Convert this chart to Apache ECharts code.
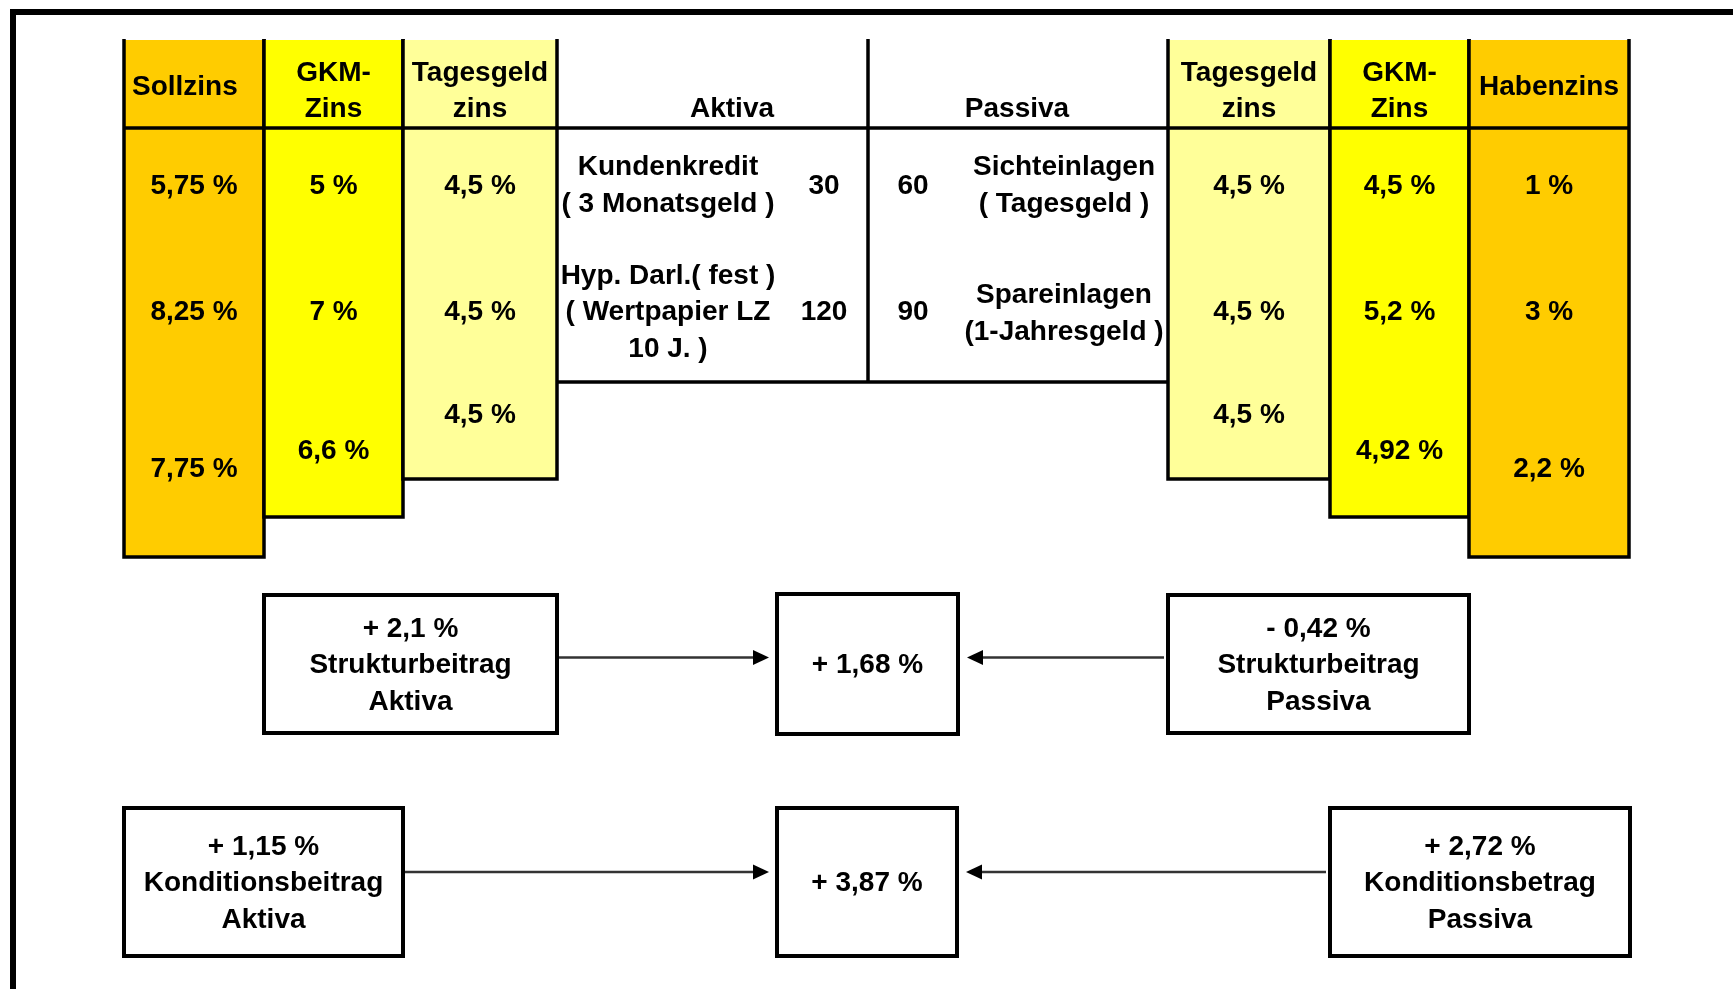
<!DOCTYPE html>
<html>
<head>
<meta charset="utf-8">
<script src="https://cdn.jsdelivr.net/npm/echarts@6/dist/echarts.min.js"></script>
<style>
html,body{margin:0;padding:0;background:#fff}
#main{width:1733px;height:989px}
</style>
</head>
<body>
<div id="main"></div>
<script>
// Zinsspalten: Kopf + 3 Zeilen (Kundenkredit/Sichteinl., Hyp./Spareinl., Durchschnitt)
const rateHeads = ['Sollzins', 'GKM-\nZins', 'Tagesgeld\nzins', 'Tagesgeld\nzins', 'GKM-\nZins', 'Habenzins'];
const sollzins = ['5,75 %', '8,25 %', '7,75 %'];
const gkmAktiva = ['5 %', '7 %', '6,6 %'];
const tagesAktiva = ['4,5 %', '4,5 %', '4,5 %'];
const tagesPassiva = ['4,5 %', '4,5 %', '4,5 %'];
const gkmPassiva = ['4,5 %', '5,2 %', '4,92 %'];
const habenzins = ['1 %', '3 %', '2,2 %'];
const rateRows = [sollzins, gkmAktiva, tagesAktiva, tagesPassiva, gkmPassiva, habenzins];

// Bilanz
const bilanzHeads = ['Aktiva', 'Passiva'];
const aktivaPos = ['Kundenkredit\n( 3 Monatsgeld )', 'Hyp. Darl.( fest )\n( Wertpapier LZ\n10 J. )'];
const aktivaVol = [30, 120];
const passivaVol = [60, 90];
const passivaPos = ['Sichteinlagen\n( Tagesgeld )', 'Spareinlagen\n(1-Jahresgeld )'];

// Ergebnisboxen
const strukturBoxes = ['+ 2,1 %\nStrukturbeitrag\nAktiva', '+ 1,68 %', '- 0,42 %\nStrukturbeitrag\nPassiva'];
const konditionBoxes = ['+ 1,15 %\nKonditionsbeitrag\nAktiva', '+ 3,87 %', '+ 2,72 %\nKonditionsbetrag\nPassiva'];

// ---- layout (Pixelraster der Zeichenfläche) ----
const TOP = 40, HEAD = 128, BIL_BOTTOM = 382;
const DY = 1.5; // Textversatz
const colX = [[124, 264], [264, 403], [403, 557], [1168, 1330], [1330, 1469], [1469, 1629]];
const colBottom = [557, 517, 479, 479, 517, 557];
const colFill = ['#FFCC00', '#FFFF00', '#FFFF99', '#FFFF99', '#FFFF00', '#FFCC00'];
const rowY = [185, 311];
const row3Y = [468, 450, 414, 414, 450, 468];
const boxRects = [
  [264, 557, 595, 733], [777, 958, 594, 734], [1168, 1469, 595, 733],
  [124, 403, 808, 956], [777, 957, 808, 956], [1330, 1630, 808, 956]
];
const arrows = [[0, 1], [2, 1], [3, 4], [5, 4]]; // von Box -> zu Box
const arrowY = [657.5, 657.5, 872, 872];

const FONT = { fontFamily: 'Liberation Sans, Arial, sans-serif', fontWeight: 'bold', fontSize: 28, fill: '#000', lineHeight: 36.5 };
const LW = 3.5;

function txt(api, text, x, y, align) {
  const p = api.coord([x, y + DY]);
  return { type: 'text', style: Object.assign({ text: String(text), x: p[0], y: p[1], align: align || 'center', verticalAlign: 'middle' }, FONT) };
}

function renderColumn(params, api) {
  const i = api.value(0);
  const a = api.coord([colX[i][0], TOP]);
  const b = api.coord([colX[i][1], colBottom[i]]);
  const cx = (colX[i][0] + colX[i][1]) / 2;
  const children = [
    { type: 'rect', shape: { x: a[0], y: a[1], width: b[0] - a[0], height: b[1] - a[1] }, style: { fill: colFill[i] } },
    { type: 'polyline', shape: { points: [[a[0], a[1] - 1], [a[0], b[1]], [b[0], b[1]], [b[0], a[1] - 1]] }, style: { stroke: '#000', lineWidth: LW, fill: null } }
  ];
  const head = rateHeads[i];
  const twoLine = head.indexOf('\n') >= 0;
  if (i === 0) children.push(txt(api, head, colX[i][0] + 8, 86, 'left'));
  else children.push(txt(api, head, cx, twoLine ? 90 : 86));
  const vals = rateRows[i];
  children.push(txt(api, vals[0], cx, rowY[0]));
  children.push(txt(api, vals[1], cx, rowY[1]));
  children.push(txt(api, vals[2], cx, row3Y[i]));
  return { type: 'group', children: children };
}

function renderBilanz(params, api) {
  const line = (x1, y1, x2, y2) => {
    const p = api.coord([x1, y1]), q = api.coord([x2, y2]);
    return { type: 'line', shape: { x1: p[0], y1: p[1], x2: q[0], y2: q[1] }, style: { stroke: '#000', lineWidth: LW } };
  };
  const children = [
    line(124, HEAD, 1629, HEAD),
    line(868, TOP - 1, 868, BIL_BOTTOM),
    line(557, BIL_BOTTOM, 1168, BIL_BOTTOM),
    txt(api, bilanzHeads[0], 732, 108),
    txt(api, bilanzHeads[1], 1017, 108)
  ];
  const lblY = [184.5, 311];
  const pasY = [184.5, 312.5];
  for (let r = 0; r < 2; r++) {
    children.push(txt(api, aktivaPos[r], 668, lblY[r]));
    children.push(txt(api, aktivaVol[r], 824, rowY[r]));
    children.push(txt(api, passivaVol[r], 913, rowY[r]));
    children.push(txt(api, passivaPos[r], 1064, pasY[r]));
  }
  return { type: 'group', children: children };
}

const allBoxes = strukturBoxes.concat(konditionBoxes);

function renderBox(params, api) {
  const i = api.value(0);
  const r = boxRects[i];
  const a = api.coord([r[0], r[2]]), b = api.coord([r[1], r[3]]);
  return {
    type: 'group',
    children: [
      { type: 'rect', shape: { x: a[0], y: a[1], width: b[0] - a[0], height: b[1] - a[1] }, style: { fill: '#fff', stroke: '#000', lineWidth: 4 } },
      txt(api, allBoxes[i], (r[0] + r[1]) / 2, (r[2] + r[3]) / 2)
    ]
  };
}

function renderArrow(params, api) {
  const k = api.value(0);
  const from = boxRects[arrows[k][0]], to = boxRects[arrows[k][1]];
  const y = arrowY[k];
  const right = from[0] < to[0];
  const x1 = right ? from[1] : from[0] - 4;
  const tip = right ? to[0] - 8 : to[1] + 9;
  const base = right ? tip - 16 : tip + 16;
  const p = api.coord([x1, y]), t = api.coord([tip, y]), bs = api.coord([base, y]);
  return {
    type: 'group',
    children: [
      { type: 'line', shape: { x1: p[0], y1: p[1], x2: bs[0], y2: bs[1] }, style: { stroke: '#333', lineWidth: 2.5 } },
      { type: 'polygon', shape: { points: [[t[0], t[1]], [bs[0], bs[1] - 7.5], [bs[0], bs[1] + 7.5]] }, style: { fill: '#000' } }
    ]
  };
}

const chart = echarts.init(document.getElementById('main'), null, { renderer: 'canvas' });
chart.setOption({
  animation: false,
  backgroundColor: '#fff',
  grid: { left: 0, right: 0, top: 0, bottom: 0 },
  xAxis: { type: 'value', min: 0, max: 1733, show: false },
  yAxis: { type: 'value', min: 0, max: 989, inverse: true, show: false },
  graphic: [{
    type: 'rect', left: 10, top: 9, shape: { width: 1800, height: 1100 },
    style: { fill: null, stroke: '#000', lineWidth: 6 }, z: 100
  }],
  series: [
    { type: 'custom', name: 'Zinsspalten', clip: false, z: 2, renderItem: renderColumn, data: rateHeads.map((h, i) => [i, 0]) },
    { type: 'custom', name: 'Bilanz', clip: false, z: 3, renderItem: renderBilanz, data: [[0, 0]] },
    { type: 'custom', name: 'Pfeile', clip: false, z: 4, renderItem: renderArrow, data: arrows.map((a, i) => [i, 0]) },
    { type: 'custom', name: 'Beitraege', clip: false, z: 5, renderItem: renderBox, data: allBoxes.map((b, i) => [i, 0]) }
  ]
});
</script>
</body>
</html>
